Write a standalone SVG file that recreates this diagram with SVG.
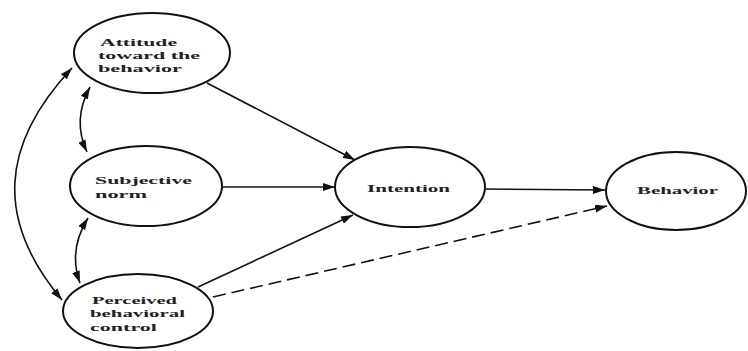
<svg xmlns="http://www.w3.org/2000/svg" width="748" height="351" viewBox="0 0 748 351">
<style>
.node ellipse{fill:#fff;stroke:#111;stroke-width:2}
.node text{font-family:"Liberation Serif","Times New Roman",serif;font-weight:bold;font-size:11px;fill:#222}
.edge{fill:none;stroke:#111;stroke-width:1.6}
.dash{stroke-dasharray:13 6}
</style>
<defs>
<marker id="ah" viewBox="0 0 12 8" refX="12" refY="4" markerWidth="12" markerHeight="8" markerUnits="userSpaceOnUse" orient="auto-start-reverse">
<path d="M0,0 L12,4 L0,8 Z" fill="#111"/>
</marker>
</defs>
<rect width="748" height="351" fill="#fff"/>
<g id="connectors">
<path class="edge" d="M207,83 L355,160" marker-end="url(#ah)"/>
<path class="edge" d="M222,187 L335,187" marker-end="url(#ah)"/>
<path class="edge" d="M198,287 L353,215" marker-end="url(#ah)"/>
<path class="edge dash" d="M213,297 L607,206" marker-end="url(#ah)"/>
<path class="edge" d="M486,189 L605,190" marker-end="url(#ah)"/>
<path class="edge" d="M90,87 Q72,120 87,152" marker-start="url(#ah)" marker-end="url(#ah)"/>
<path class="edge" d="M88,218 Q68,250 80,283" marker-start="url(#ah)" marker-end="url(#ah)"/>
<path class="edge" d="M72,68 C0,145 -5,220 62,300" marker-start="url(#ah)" marker-end="url(#ah)"/>
</g>
<g id="attitude" class="node">
<ellipse cx="152" cy="53" rx="78" ry="40"/>
<text x="100" y="46" textLength="77" lengthAdjust="spacingAndGlyphs">Attitude</text>
<text x="98" y="59" textLength="102" lengthAdjust="spacingAndGlyphs">toward the</text>
<text x="98" y="72" textLength="84" lengthAdjust="spacingAndGlyphs">behavior</text>
</g>
<g id="subjective" class="node">
<ellipse cx="146" cy="186" rx="76" ry="40"/>
<text x="95" y="184" textLength="97" lengthAdjust="spacingAndGlyphs">Subjective</text>
<text x="95" y="198" textLength="52" lengthAdjust="spacingAndGlyphs">norm</text>
</g>
<g id="perceived" class="node">
<ellipse cx="138" cy="311" rx="75" ry="37"/>
<text x="92" y="304" textLength="85" lengthAdjust="spacingAndGlyphs">Perceived</text>
<text x="90" y="317" textLength="95" lengthAdjust="spacingAndGlyphs">behavioral</text>
<text x="90" y="331" textLength="67" lengthAdjust="spacingAndGlyphs">control</text>
</g>
<g id="intention" class="node">
<ellipse cx="410" cy="187" rx="75" ry="40"/>
<text x="367" y="192" textLength="83" lengthAdjust="spacingAndGlyphs">Intention</text>
</g>
<g id="behavior" class="node">
<ellipse cx="676" cy="191" rx="70" ry="39"/>
<text x="637" y="194" textLength="81" lengthAdjust="spacingAndGlyphs">Behavior</text>
</g>
</svg>
